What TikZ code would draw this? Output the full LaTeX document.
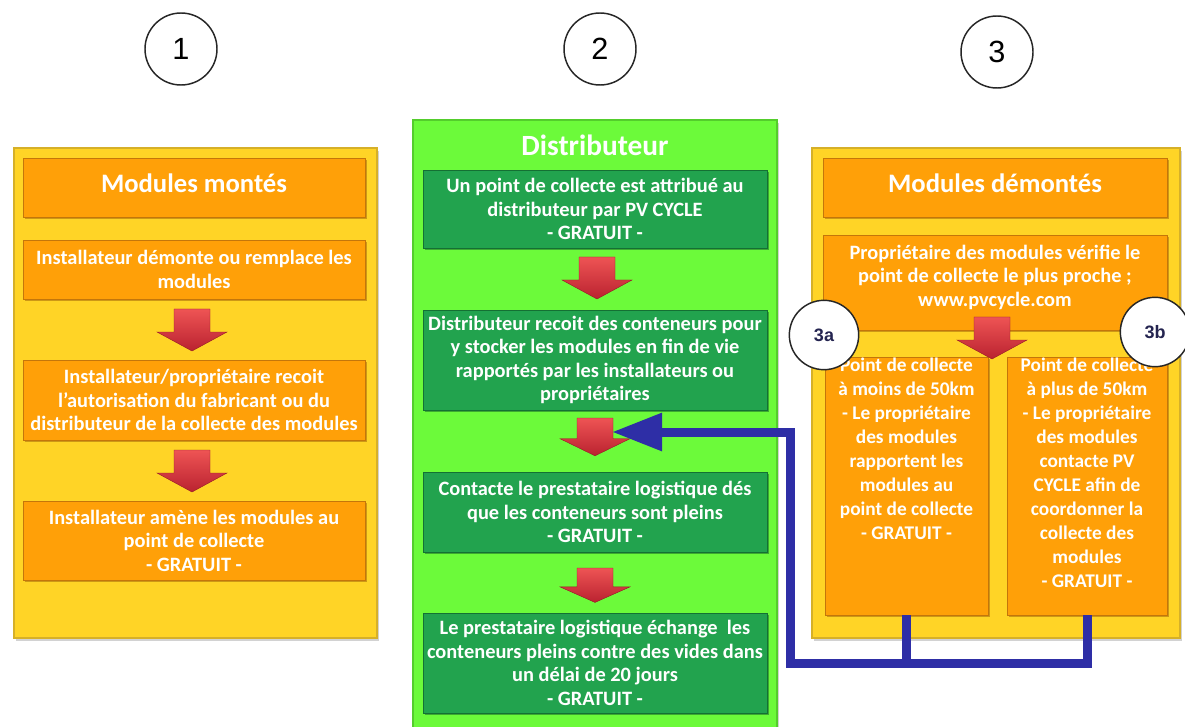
\documentclass[tikz,border=0pt]{standalone}
\usepackage{fontspec}
\setmainfont{Carlito}
\newfontfamily\arialf{Liberation Sans}
\usetikzlibrary{shadows,arrows.meta}
\definecolor{yelP}{RGB}{255,212,38}
\definecolor{yelB}{RGB}{214,176,40}
\definecolor{orgB}{RGB}{255,160,8}
\definecolor{orgD}{RGB}{196,118,10}
\definecolor{grnP}{RGB}{108,250,58}
\definecolor{grnPB}{RGB}{84,205,44}
\definecolor{grnB}{RGB}{34,163,78}
\definecolor{grnD}{RGB}{20,112,52}
\definecolor{redT}{RGB}{238,84,84}
\definecolor{redB}{RGB}{186,34,48}
\definecolor{bluC}{RGB}{46,46,166}
\definecolor{navy}{RGB}{36,36,80}
\newcommand\bodyfont{\fontsize{15.3}{17.6}\selectfont\bfseries}
\newcommand\colfont{\fontsize{14.5}{18}\selectfont\bfseries}
\newcommand\headfont{\fontsize{20}{22}\selectfont\bfseries}
\begin{document}
\begin{tikzpicture}[x=0.75pt,y=-0.75pt,
  panelY/.style={rectangle, fill=yelP, draw=yelB, line width=1.2pt, inner sep=0pt,
    drop shadow={shadow xshift=1.5pt, shadow yshift=-2pt, fill=black!35}},
  panelG/.style={rectangle, fill=grnP, draw=grnPB, line width=1.2pt, inner sep=0pt,
    drop shadow={shadow xshift=1.5pt, shadow yshift=-2pt, fill=black!35}},
  obox/.style={rectangle, fill=orgB, draw=orgD, line width=0.6pt, inner sep=0pt, text=white,
    align=center, font=\bodyfont,
    drop shadow={shadow xshift=1.2pt, shadow yshift=-1.5pt, fill=orgD!80!black}},
  gbox/.style={rectangle, fill=grnB, draw=grnD, line width=0.6pt, inner sep=0pt, text=white,
    align=center, font=\bodyfont,
    drop shadow={shadow xshift=1.2pt, shadow yshift=-1.5pt, fill=grnD!80!black}},
  hbox/.style={obox, font=\headfont, text depth=6pt},
  btext/.style={text=white, align=center, font=\colfont, inner sep=0pt},
  numc/.style={circle, draw=black!85, line width=1.1pt, minimum size=54pt,
    inner sep=0pt, font=\arialf\fontsize{23}{25}\selectfont},
  subc/.style={circle, draw=black!85, line width=1.1pt, fill=white, minimum size=52pt,
    inner sep=0pt, text=navy, font=\arialf\bfseries\fontsize{13.5}{15}\selectfont},
  arrfill/.style={top color=redT, bottom color=redB, draw=redB!80!black, line width=0.3pt},
  redarr/.pic={\path[arrfill] (-18,0) -- (18,0) -- (18,23) -- (35,23) -- (0,42)
     -- (-35,23) -- (-18,23) -- cycle;},
  bline/.style={draw=bluC, line width=6.75pt, line join=miter}
]
\useasboundingbox (0,0) rectangle (1185,727);
\fill[white] (0,0) rectangle (1185,727);

% numbered circles
\node[numc] (n1) at (181,49) {1};
\node[numc] (n2) at (600,49) {2};
\node[numc] (n3) at (997,52) {3};

% panel 1
\node[panelY, minimum width=272.25pt, minimum height=367.5pt] (p1) at (195.5,393) {};
\node[hbox, minimum width=256.5pt, minimum height=44.25pt] (h1) at (194,187.5) {Modules montés};
\node[obox, minimum width=256.5pt, minimum height=44.25pt] (o1) at (194,269.5) {Installateur démonte ou remplace les\\modules};
\node[obox, minimum width=256.5pt, minimum height=60pt] (o2) at (194,400) {Installateur/propriétaire recoit\\l’autorisation du fabricant ou du\\distributeur de la collecte des modules};
\node[obox, minimum width=256.5pt, minimum height=59.25pt] (o3) at (194,540.5) {Installateur amène les modules au\\point de collecte\\- GRATUIT -};
\pic (a1) at (192,309) {redarr};
\pic (a2) at (192,450) {redarr};

% panel 2
\node[panelG, minimum width=273pt, minimum height=468.75pt] (p2) at (595,432.5) {};
\node[text=white, font=\bfseries\fontsize{22}{24}\selectfont, inner sep=0pt] (t2) at (595,145) {Distributeur};
\node[gbox, minimum width=258pt, minimum height=58.5pt] (g1) at (595,209) {Un point de collecte est attribué au\\distributeur par PV CYCLE\\- GRATUIT -};
\node[gbox, minimum width=258pt, minimum height=75pt] (g2) at (595,360) {Distributeur recoit des conteneurs pour\\y stocker les modules en fin de vie\\rapportés par les installateurs ou\\propriétaires};
\node[gbox, minimum width=258pt, minimum height=60pt] (g3) at (595,512) {Contacte le prestataire logistique dés\\que les conteneurs sont pleins\\- GRATUIT -};
\node[gbox, minimum width=258pt, minimum height=75pt] (g4) at (595,663) {Le prestataire logistique échange\ \ les\\conteneurs pleins contre des vides dans\\un délai de 20 jours\\- GRATUIT -};
\pic (ga1) at (597,257) {redarr};
\pic[yscale=0.9] (ga2) at (595,418) {redarr};
\pic[yscale=0.82] (ga3) at (595,568) {redarr};

% panel 3
\node[panelY, minimum width=276pt, minimum height=367.5pt] (p3) at (996,393) {};
\node[hbox, minimum width=258pt, minimum height=44.25pt] (h3) at (995,187.5) {Modules démontés};
\node[obox, minimum width=258pt, minimum height=71.25pt, text depth=10.5pt] (r1) at (995,282.5) {Propriétaire des modules vérifie le\\point de collecte le plus proche ;\\www.pvcycle.com};
\node[obox, minimum width=122.25pt, minimum height=193.5pt] (a3) at (906.5,486) {};
\node[obox, minimum width=120pt, minimum height=193.5pt] (b3) at (1087,486) {};
\node[btext, anchor=north] (a3t) at ([yshift=-1pt]a3.north)
  {Point de collecte\\à moins de 50km\\- Le propriétaire\\des modules\\rapportent les\\modules au\\point de collecte\\- GRATUIT -};
\node[btext, anchor=north] (b3t) at ([yshift=-1pt]b3.north)
  {Point de collecte\\à plus de 50km\\- Le propriétaire\\des modules\\contacte PV\\CYCLE afin de\\coordonner la\\collecte des\\modules\\- GRATUIT -};
\pic (ra) at (992,317) {redarr};
\node[subc] (c3a) at (824,335) {3a};
\node[subc] (c3b) at (1155,332) {3b};

% blue connector
\coordinate (tipG) at (612,432);
\coordinate (jn) at (790,663);
\draw[bline] (a3.south) -- (a3.south |- jn);
\draw[bline, -{Triangle[length=37.5pt,width=27pt]}] (b3.south) |- (jn) |- (tipG);
\end{tikzpicture}
\end{document}
